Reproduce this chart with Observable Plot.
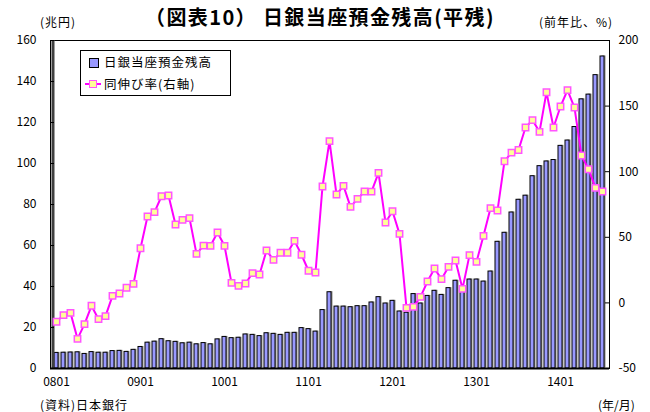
<!DOCTYPE html>
<html>
<head>
<meta charset="utf-8">
<script src="https://cdn.jsdelivr.net/npm/d3@7"></script>
<script src="https://cdn.jsdelivr.net/npm/@observablehq/plot@0.6"></script>
<style>
  html, body { margin: 0; padding: 0; background: #fff; }
  #wrap { position: relative; width: 650px; height: 412px; font-family: "Noto Sans CJK JP", "Liberation Sans", sans-serif; color: #000; }
  #wrap svg { position: absolute; left: 0; top: 0; }
  .lbl { position: absolute; font-size: 12px; line-height: 16px; white-space: nowrap; letter-spacing: 1px; }
  #title { position: absolute; left: 145px; top: 4px; font-size: 20px; line-height: 26px; font-weight: bold; white-space: nowrap; letter-spacing: 1.4px; }
  #legend { position: absolute; left: 80px; top: 50px; width: 149px; height: 44px; border: 1px solid #000; background: #fff; }
  .sw1 { position: absolute; left: 8px; top: 7px; width: 8px; height: 8px; background: #9999ff; border: 1px solid #000; }
  .sw2line { position: absolute; left: 4px; top: 32px; width: 16px; height: 2px; background: #ff00ff; }
  .sw2dot { position: absolute; left: 8px; top: 29px; width: 6px; height: 6px; background: #ffff99; border: 1px solid #ff55ff; }
  .lt { position: absolute; left: 23px; font-size: 12.5px; line-height: 16px; white-space: nowrap; letter-spacing: 1px; }
</style>
</head>
<body>
<div id="wrap">
  <div id="title">（図表10）&nbsp;日銀当座預金残高(平残)</div>
  <div class="lbl" style="left:40px; top:14px;">(兆円)</div>
  <div class="lbl" style="left:539px; top:14px;">(前年比、%)</div>
  <div class="lbl" style="left:40px; top:397px;">(資料)日本銀行</div>
  <div class="lbl" style="left:598px; top:397px; letter-spacing:0;">(年/月)</div>
</div>
<script>
const months = [
  "0801","0802","0803","0804","0805","0806","0807","0808","0809","0810","0811","0812",
  "0901","0902","0903","0904","0905","0906","0907","0908","0909","0910","0911","0912",
  "1001","1002","1003","1004","1005","1006","1007","1008","1009","1010","1011","1012",
  "1101","1102","1103","1104","1105","1106","1107","1108","1109","1110","1111","1112",
  "1201","1202","1203","1204","1205","1206","1207","1208","1209","1210","1211","1212",
  "1301","1302","1303","1304","1305","1306","1307","1308","1309","1310","1311","1312",
  "1401","1402","1403","1404","1405","1406","1407"
];
// 日銀当座預金残高 (兆円)
const balance = [
  7.6, 7.7, 7.8, 7.9, 7.1, 8.0, 7.7, 7.7, 8.5, 8.6, 8.1, 9.1,
  10.5, 12.6, 13.1, 14.3, 13.3, 13.0, 12.3, 12.6, 11.8, 12.4, 11.8, 14.2,
  15.4, 14.8, 15.0, 16.6, 16.4, 15.8, 17.2, 16.9, 16.4, 17.4, 17.4, 19.7,
  19.2, 18.0, 28.5, 37.2, 30.2, 30.2, 29.9, 30.4, 30.4, 32.2, 34.8, 31.7,
  33.0, 27.8, 27.2, 36.3, 31.7, 35.4, 37.9, 35.9, 39.2, 42.8, 40.0, 43.4,
  43.4, 42.4, 47.3, 61.8, 66.2, 76.1, 82.3, 84.3, 93.8, 98.7, 101.0, 101.7,
  108.6, 111.2, 117.8, 131.3, 133.6, 143.1, 152.2
];
// 同伸び率 (前年比、%)
const growth = [
  -14.4, -9.3, -7.6, -27.4, -16.2, -2.2, -12.4, -10.1, 5.4, 7.2, 11.5, 14.5,
  41.7, 65.9, 69.2, 81.3, 81.9, 59.8, 63.3, 64.6, 37.4, 43.7, 43.5, 53.7,
  43.5, 15.3, 13.0, 14.8, 22.7, 21.6, 39.9, 32.8, 38.2, 38.2, 47.3, 36.7,
  24.5, 23.2, 88.7, 123.3, 82.6, 89.2, 73.2, 79.3, 84.9, 84.8, 99.1, 61.3,
  69.9, 52.6, -3.8, -3.0, 4.6, 16.3, 26.2, 18.1, 27.5, 32.3, 10.7, 36.4,
  31.3, 51.1, 72.2, 70.4, 108.0, 114.5, 116.5, 133.7, 139.3, 130.4, 160.6, 133.7,
  149.7, 162.2, 148.9, 112.3, 101.9, 87.7, 84.9
];
const xTickLabels = ["0801","0901","1001","1101","1201","1301","1401"];
const leftTicks = [0, 20, 40, 60, 80, 100, 120, 140, 160];
const rightTicks = [-50, 0, 50, 100, 150, 200];

const leftDomain = [0, 160];
const rightDomain = [-50, 200];
const toLeft = v => (v - rightDomain[0]) * (leftDomain[1] - leftDomain[0]) / (rightDomain[1] - rightDomain[0]) + leftDomain[0];
const fromLeft = d => (d - leftDomain[0]) * (rightDomain[1] - rightDomain[0]) / (leftDomain[1] - leftDomain[0]) + rightDomain[0];

const rows = months.map((m, i) => ({m, v: balance[i], g: growth[i]}));

const chart = Plot.plot({
  width: 650,
  height: 412,
  marginTop: 40,
  marginBottom: 44,
  marginLeft: 50,
  marginRight: 41,
  style: {fontFamily: "'Noto Sans CJK JP', 'Liberation Sans', sans-serif", fontSize: "12px", color: "#000", background: "transparent", overflow: "visible"},
  x: {type: "band", domain: months, paddingInner: 0.4, paddingOuter: 0.2, axis: null},
  y: {domain: leftDomain, axis: null},
  marks: [
    Plot.barY(rows, {x: "m", y: "v", fill: "#8a8a8a", dx: 1.5, dy: -0.5}),
    Plot.barY(rows, {x: "m", y: "v", fill: "#9999ff", stroke: "#000", strokeWidth: 1}),
    Plot.frame({stroke: "#000", strokeWidth: 1}),
    Plot.ruleX([months[0]], {dx: -3.5, stroke: "#404040", strokeWidth: 3}),
    Plot.ruleY([0], {stroke: "#000", strokeWidth: 2}),
    Plot.ruleY(leftTicks, {y: d => d, insetRight: 555, stroke: "#000"}),
    Plot.ruleY(rightTicks.map(toLeft), {y: d => d, insetLeft: 555, stroke: "#000"}),
    Plot.axisY({ticks: leftTicks, tickSize: 0, tickPadding: 14, label: null}),
    Plot.axisY({anchor: "right", ticks: rightTicks.map(toLeft), tickFormat: d => String(Math.round(fromLeft(d))), tickSize: 0, tickPadding: 9, label: null}),
    Plot.axisX({ticks: xTickLabels, tickSize: 0, tickPadding: 9, label: null}),
    Plot.line(rows, {x: "m", y: d => toLeft(d.g), stroke: "#ff00ff", strokeWidth: 2}),
    Plot.dot(rows, {x: "m", y: d => toLeft(d.g), symbol: "square", r: 3.6, fill: "#ffff99", stroke: "#ff55ff", strokeWidth: 1.5})
  ]
});
const wrap = document.getElementById("wrap");
wrap.insertBefore(chart, wrap.firstChild);

const legend = document.createElement("div");
legend.id = "legend";
legend.innerHTML =
  '<div class="sw1"></div><div class="lt" style="top:3px;">日銀当座預金残高</div>' +
  '<div class="sw2line"></div><div class="sw2dot"></div><div class="lt" style="top:25px;">同伸び率(右軸)</div>';
wrap.appendChild(legend);
</script>
</body>
</html>
